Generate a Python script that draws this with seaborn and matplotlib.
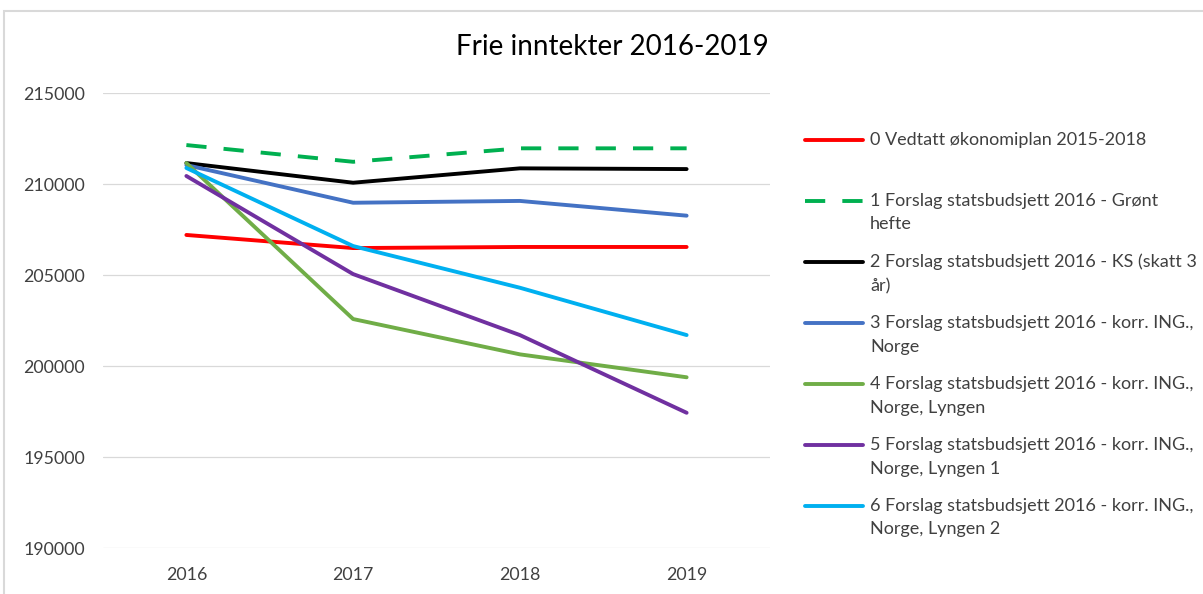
import numpy as np
import pandas as pd
import matplotlib
matplotlib.use("Agg")
import matplotlib.pyplot as plt
import seaborn as sns
from matplotlib.legend_handler import HandlerLine2D
from matplotlib.patches import Rectangle

# ========== data ==========
years = ["2016", "2017", "2018", "2019"]

series_names = [
    "0 Vedtatt økonomiplan 2015-2018\n ",
    "1 Forslag statsbudsjett 2016 - Grønt\nhefte",
    "2 Forslag statsbudsjett 2016 - KS (skatt 3\når)",
    "3 Forslag statsbudsjett 2016 - korr. ING.,\nNorge",
    "4 Forslag statsbudsjett 2016 - korr. ING.,\nNorge, Lyngen",
    "5 Forslag statsbudsjett 2016 - korr. ING.,\nNorge, Lyngen 1",
    "6 Forslag statsbudsjett 2016 - korr. ING.,\nNorge, Lyngen 2",
]

s0 = [207200, 206480, 206540, 206540]
s1 = [212140, 211220, 211960, 211960]
s2 = [211150, 210070, 210860, 210820]
s3 = [211040, 208970, 209070, 208260]
s4 = [211150, 202580, 200640, 199380]
s5 = [210440, 205050, 201700, 197430]
s6 = [210880, 206590, 204300, 201700]

colors = ["#FF0000", "#00B050", "#000000", "#4472C4", "#70AD47", "#7030A0", "#00B0F0"]
y_ticks = [190000, 195000, 200000, 205000, 210000, 215000]

rows = []
for name, vals in zip(series_names, [s0, s1, s2, s3, s4, s5, s6]):
    for yr, v in zip(years, vals):
        rows.append({"År": yr, "Verdi": v, "Serie": name})
df = pd.DataFrame(rows)

# ========== plot ==========
sns.set_style("white")
plt.rcParams["font.family"] = ["Lato", "DejaVu Sans"]

fig = plt.figure(figsize=(12.03, 5.94), dpi=100)
ax = fig.add_axes([103 / 1203, 1 - 548 / 594, (770 - 103) / 1203, (548 - 93) / 594])

dash_map = {n: "" for n in series_names}
dash_map[series_names[1]] = (5.2, 4.4)

sns.lineplot(data=df, x="År", y="Verdi", hue="Serie", style="Serie",
             palette=dict(zip(series_names, colors)), dashes=dash_map,
             hue_order=series_names, style_order=series_names,
             linewidth=2.8, sort=False, estimator=None, ax=ax, legend=True)

ax.set_xlim(-0.5, 3.5)
ax.set_ylim(190000, 215000)
ax.set_yticks(y_ticks)
ax.set_yticklabels([str(t) for t in y_ticks])
ax.grid(axis="y", color="#d9d9d9", linewidth=0.9)
ax.grid(axis="x", visible=False)
ax.set_axisbelow(True)
for sp in ax.spines.values():
    sp.set_visible(False)
ax.tick_params(axis="both", length=0, labelsize=12.8, colors="#404040")
ax.tick_params(axis="y", pad=13)
ax.tick_params(axis="x", pad=14)
ax.set_xlabel("")
ax.set_ylabel("")


class FirstLineHandler(HandlerLine2D):
    # put the key next to the first line of a two line label
    def create_artists(self, legend, orig_handle, xdescent, ydescent,
                       width, height, fontsize, trans):
        arts = super().create_artists(legend, orig_handle, xdescent, ydescent,
                                      width, height, fontsize, trans)
        for a in arts:
            a.set_ydata([y + 0.67 * fontsize for y in a.get_ydata()])
        return arts


handles, labels = ax.get_legend_handles_labels()
for h in handles:
    h.set_linewidth(2.8)
leg = ax.legend(handles, labels, loc="upper left",
                bbox_to_anchor=(805 / 1203, 1 - 132 / 594),
                bbox_transform=fig.transFigure, frameon=False,
                prop={"size": 13}, handlelength=3.2, handletextpad=0.4,
                labelspacing=1.18, borderpad=0, borderaxespad=0,
                handler_map={h: FirstLineHandler() for h in handles})
for t in leg.get_texts():
    t.set_linespacing(1.58)
    t.set_color("#404040")

fig.text(612 / 1203, 1 - 47 / 594, "Frie inntekter 2016-2019",
         ha="center", va="center", fontsize=20, color="#000000")

# chart frame (cropped in the reference)
fig.patches.append(Rectangle((4 / 1203, -0.1), 1.2, 1 - 11 / 594 + 0.1,
                             transform=fig.transFigure, fill=False,
                             edgecolor="#d9d9d9", linewidth=1.5))

fig.savefig("out.png", dpi=100)
